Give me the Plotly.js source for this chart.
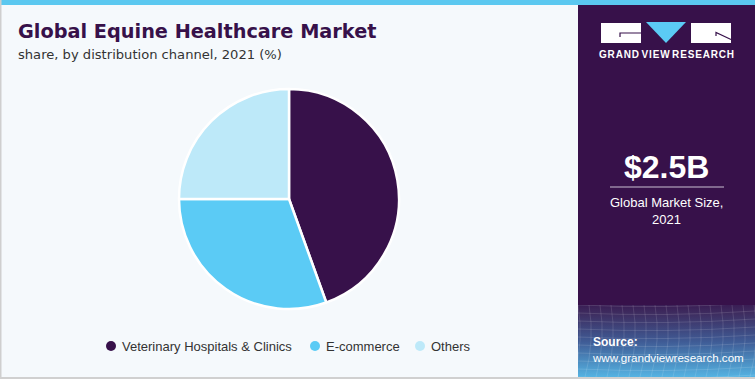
<!DOCTYPE html>
<html>
<head>
<meta charset="utf-8">
<script src="https://cdn.plot.ly/plotly-3.0.1.min.js"></script>
<style>html,body{margin:0;padding:0;background:#F5F9FC;}#chart{width:755px;height:379px;}</style>
</head>
<body>
<div id="chart"></div>
<script>
// ---- data ----
const categories = ["Veterinary Hospitals & Clinics", "E-commerce", "Others"];
const shares = [44.5, 30.5, 25.0];
const colors = ["#37114A", "#5BCBF5", "#BDE9F9"];
const titleText = "Global Equine Healthcare Market";
const subtitleText = "share, by distribution channel, 2021 (%)";
const marketSize = "$2.5B";
const marketLabel = ["Global Market Size,", "2021"];
const sourceLines = ["Source:", "www.grandviewresearch.com"];

// ---- layout helpers (pixel -> paper) ----
const W = 755, H = 379;
const px = x => x / W;
const py = y => 1 - y / H;
const FONT = "Liberation Sans, Arial, sans-serif";
const FONT_W = "DejaVu Sans, Liberation Sans, sans-serif";

const shapes = [];
const annotations = [];

// background panels
shapes.push({type:"rect", xref:"paper", yref:"paper", x0:px(578), x1:px(755), y0:py(377), y1:py(0), fillcolor:"#37114A", line:{width:0}, layer:"below"});
shapes.push({type:"rect", xref:"paper", yref:"paper", x0:px(0), x1:px(755), y0:py(5), y1:py(0), fillcolor:"#5BC8F0", line:{width:0}, layer:"below"});
shapes.push({type:"rect", xref:"paper", yref:"paper", x0:px(0), x1:px(1.5), y0:py(379), y1:py(0), fillcolor:"#CFCFCF", line:{width:0}, layer:"below"});
shapes.push({type:"rect", xref:"paper", yref:"paper", x0:px(0), x1:px(755), y0:py(379), y1:py(377), fillcolor:"#D0D0D0", line:{width:0}, layer:"below"});

// logo
shapes.push({type:"rect", xref:"paper", yref:"paper", x0:px(601), x1:px(641), y0:py(43), y1:py(23), fillcolor:"#FFFFFF", line:{width:0}, layer:"above"});
shapes.push({type:"path", xref:"paper", yref:"paper", path:`M ${px(646)} ${py(22)} L ${px(686)} ${py(22)} L ${px(666)} ${py(43)} Z`, fillcolor:"#5BCBF5", line:{width:0}, layer:"above"});
shapes.push({type:"rect", xref:"paper", yref:"paper", x0:px(691), x1:px(731), y0:py(43), y1:py(23), fillcolor:"#FFFFFF", line:{width:0}, layer:"above"});
shapes.push({type:"path", xref:"paper", yref:"paper", path:`M ${px(641)} ${py(33)} L ${px(620)} ${py(33)} L ${px(620)} ${py(37)}`, line:{color:"#37114A", width:1.2}, layer:"above"});
shapes.push({type:"path", xref:"paper", yref:"paper", path:`M ${px(716)} ${py(36)} L ${px(716)} ${py(32.5)} L ${px(731)} ${py(39.5)}`, line:{color:"#37114A", width:1.2}, layer:"above"});

// divider under market size
shapes.push({type:"line", xref:"paper", yref:"paper", x0:px(610), x1:px(724), y0:py(187), y1:py(187), line:{color:"#C9BFD2", width:1.2}, layer:"above"});

// legend (manual, circles + labels)
const legendX = [111, 315, 420];
const legendY = 346;
categories.forEach((c, i) => {
  shapes.push({type:"circle", xref:"paper", yref:"paper", x0:px(legendX[i]-5), x1:px(legendX[i]+5), y0:py(legendY+5), y1:py(legendY-5), fillcolor:colors[i], line:{width:0}});
  annotations.push({xref:"paper", yref:"paper", x:px(legendX[i]+9), y:py(legendY), xanchor:"left", yanchor:"middle", text:c, showarrow:false, font:{family:FONT, size:13, color:"#333333"}});
});

// titles
annotations.push({xref:"paper", yref:"paper", x:px(16), y:py(31), xanchor:"left", yanchor:"middle", text:"<b>"+titleText+"</b>", showarrow:false, font:{family:FONT_W, size:19.3, color:"#37114A"}});
annotations.push({xref:"paper", yref:"paper", x:px(16), y:py(55), xanchor:"left", yanchor:"middle", text:subtitleText, showarrow:false, font:{family:FONT_W, size:13.1, color:"#333333"}});

// right panel texts
annotations.push({xref:"paper", yref:"paper", x:px(666), y:py(55), xanchor:"center", yanchor:"middle", text:"<b>G R A N D   V I E W   R E S E A R C H</b>".replace(/ /g,"\u200A"), showarrow:false, font:{family:FONT, size:10, color:"#FFFFFF"}});
annotations.push({xref:"paper", yref:"paper", x:px(666), y:py(167), xanchor:"center", yanchor:"middle", text:"<b>"+marketSize+"</b>", showarrow:false, font:{family:FONT, size:32, color:"#FFFFFF"}});
annotations.push({xref:"paper", yref:"paper", x:px(666), y:py(202), xanchor:"center", yanchor:"middle", text:marketLabel[0], showarrow:false, font:{family:FONT, size:13, color:"#FFFFFF"}});
annotations.push({xref:"paper", yref:"paper", x:px(666), y:py(219), xanchor:"center", yanchor:"middle", text:marketLabel[1], showarrow:false, font:{family:FONT, size:13, color:"#FFFFFF"}});
annotations.push({xref:"paper", yref:"paper", x:px(591), y:py(342), xanchor:"left", yanchor:"middle", text:"<b>"+sourceLines[0]+"</b>", showarrow:false, font:{family:FONT, size:12, color:"#FFFFFF"}});
annotations.push({xref:"paper", yref:"paper", x:px(590), y:py(357), xanchor:"left", yanchor:"middle", text:sourceLines[1], showarrow:false, font:{family:FONT, size:11.6, color:"#FFFFFF"}});

// source gradient image
let grid = "";
for (let k = 0; k < 18; k++) { grid += `<path d="M${k*11} 0 Q ${k*11+6} 35 ${k*11-4} 72" stroke="#ffffff" stroke-opacity="0.18" fill="none" stroke-width="0.7"/>`; }
for (let k = 0; k < 10; k++) { grid += `<path d="M0 ${k*8} Q 88 ${k*8+4} 177 ${k*8-2}" stroke="#ffffff" stroke-opacity="0.18" fill="none" stroke-width="0.7"/>`; }
const svg = `<svg xmlns="http://www.w3.org/2000/svg" width="177" height="72" viewBox="0 0 177 72" preserveAspectRatio="none"><defs><linearGradient id="g" x1="0" y1="0" x2="0" y2="1"><stop offset="0" stop-color="#3A1E55"/><stop offset="0.12" stop-color="#3E2D60"/><stop offset="0.5" stop-color="#3F5A94"/><stop offset="1" stop-color="#55B3E2"/></linearGradient></defs><rect width="177" height="72" fill="url(#g)"/>${grid}</svg>`;
const images = [{source:"data:image/svg+xml;charset=utf-8," + encodeURIComponent(svg), xref:"paper", yref:"paper", x:px(578), y:py(305), sizex:px(177), sizey:72/H, sizing:"stretch", xanchor:"left", yanchor:"top", layer:"above"}];

const trace = {
  type:"pie",
  labels:categories,
  values:shares,
  marker:{colors:colors, line:{color:"#FFFFFF", width:2.5}},
  sort:false,
  direction:"clockwise",
  rotation:0,
  textinfo:"none",
  hoverinfo:"label+percent",
  showlegend:false,
  domain:{x:[px(179), px(399)], y:[py(309), py(89)]}
};

const layout = {
  width:W, height:H,
  margin:{l:0, r:0, t:0, b:0},
  paper_bgcolor:"#F5F9FC",
  plot_bgcolor:"#F5F9FC",
  showlegend:false,
  shapes:shapes,
  annotations:annotations,
  images:images
};

Plotly.newPlot("chart", [trace], layout, {displayModeBar:false, staticPlot:true});
</script>
</body>
</html>
